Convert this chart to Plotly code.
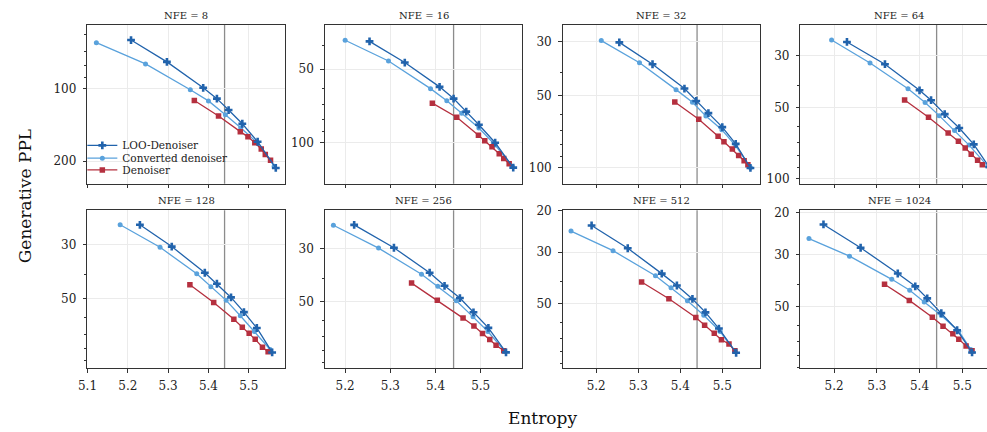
import plotly.graph_objects as go
from plotly.subplots import make_subplots

# ---------------- data ----------------
NFE = [8, 16, 32, 64, 128, 256, 512, 1024]
REF_ENTROPY = 5.44

LOO_ENTROPY = {
    8:    [5.208, 5.297, 5.387, 5.421, 5.450, 5.484, 5.522, 5.567],
    16:   [5.254, 5.332, 5.409, 5.440, 5.468, 5.496, 5.532, 5.572],
    32:   [5.255, 5.334, 5.410, 5.438, 5.467, 5.500, 5.532, 5.567],
    64:   [5.230, 5.319, 5.400, 5.427, 5.459, 5.493, 5.527, 5.563],
    128:  [5.230, 5.309, 5.391, 5.421, 5.456, 5.488, 5.520, 5.558],
    256:  [5.220, 5.308, 5.387, 5.420, 5.454, 5.484, 5.517, 5.556],
    512:  [5.189, 5.275, 5.356, 5.392, 5.429, 5.460, 5.492, 5.533],
    1024: [5.175, 5.262, 5.349, 5.390, 5.418, 5.451, 5.488, 5.523],
}
LOO_PPL = {
    8:    [63.0, 77.6, 99.4, 110.2, 122.9, 140.1, 166.3, 213.6],
    16:   [38.5, 47.0, 59.1, 66.0, 74.6, 84.4, 100.0, 126.4],
    32:   [30.1, 37.1, 46.8, 52.7, 59.2, 67.7, 79.4, 100.0],
    64:   [26.2, 32.6, 42.1, 46.4, 53.2, 61.0, 71.6, 89.4],
    128:  [24.9, 30.6, 39.2, 43.5, 49.5, 56.9, 66.1, 83.3],
    256:  [23.9, 29.8, 37.9, 43.0, 48.4, 55.5, 64.5, 81.7],
    512:  [23.1, 28.9, 37.1, 41.7, 47.6, 54.3, 63.7, 80.8],
    1024: [22.4, 28.1, 36.1, 40.9, 46.0, 53.1, 62.7, 77.8],
}
CONV_ENTROPY = {
    8:    [5.122, 5.244, 5.355, 5.400, 5.442, 5.480, 5.521, 5.563],
    16:   [5.200, 5.296, 5.389, 5.425, 5.458, 5.496, 5.532, 5.570],
    32:   [5.212, 5.303, 5.390, 5.429, 5.461, 5.499, 5.532, 5.567],
    64:   [5.194, 5.284, 5.373, 5.413, 5.446, 5.482, 5.516, 5.560],
    128:  [5.181, 5.280, 5.371, 5.406, 5.444, 5.479, 5.514, 5.553],
    256:  [5.174, 5.274, 5.369, 5.405, 5.446, 5.483, 5.516, 5.553],
    512:  [5.140, 5.240, 5.341, 5.378, 5.417, 5.456, 5.495, 5.530],
    1024: [5.141, 5.236, 5.335, 5.377, 5.411, 5.451, 5.492, 5.520],
}
CONV_PPL = {
    8:    [64.6, 79.1, 101.3, 112.6, 128.4, 145.4, 167.9, 210.0],
    16:   [38.1, 46.3, 60.1, 67.4, 75.8, 87.1, 102.2, 125.0],
    32:   [29.6, 36.6, 47.3, 53.4, 60.9, 69.4, 80.9, 99.5],
    64:   [25.7, 32.2, 41.5, 47.5, 54.0, 62.4, 72.1, 88.8],
    128:  [24.9, 30.8, 39.6, 44.7, 50.9, 58.9, 68.4, 81.0],
    256:  [24.0, 29.9, 38.5, 43.2, 49.7, 58.0, 66.8, 80.7],
    512:  [24.4, 29.6, 37.9, 42.6, 48.4, 55.9, 65.6, 79.8],
    1024: [25.7, 30.5, 38.2, 42.5, 47.6, 54.3, 63.3, 75.6],
}
DEN_ENTROPY = {
    8:    [5.365, 5.425, 5.479, 5.498, 5.515, 5.531, 5.541, 5.554],
    16:   [5.393, 5.447, 5.495, 5.509, 5.525, 5.541, 5.551, 5.563],
    32:   [5.387, 5.444, 5.490, 5.504, 5.524, 5.539, 5.552, 5.561],
    64:   [5.365, 5.421, 5.467, 5.491, 5.507, 5.521, 5.536, 5.547],
    128:  [5.354, 5.413, 5.463, 5.484, 5.501, 5.516, 5.534, 5.548],
    256:  [5.347, 5.404, 5.461, 5.485, 5.504, 5.520, 5.534, 5.551],
    512:  [5.308, 5.373, 5.437, 5.458, 5.481, 5.498, 5.516, 5.530],
    1024: [5.318, 5.376, 5.430, 5.455, 5.478, 5.492, 5.509, 5.523],
}
DEN_PPL = {
    8:    [112.2, 130.0, 151.0, 158.7, 167.9, 178.2, 187.8, 198.2],
    16:   [68.9, 78.7, 93.2, 98.2, 103.8, 111.0, 116.0, 121.8],
    32:   [53.2, 62.8, 73.9, 77.9, 83.4, 88.8, 93.4, 96.9],
    64:   [46.3, 54.9, 64.0, 69.4, 74.2, 78.9, 83.6, 87.4],
    128:  [43.9, 51.9, 60.9, 65.7, 69.4, 73.6, 79.3, 82.8],
    256:  [41.9, 49.4, 58.7, 63.3, 68.1, 72.1, 76.3, 80.4],
    512:  [40.3, 47.5, 57.1, 61.7, 66.7, 71.1, 74.1, 79.3],
    1024: [40.1, 46.9, 55.3, 60.3, 64.9, 68.5, 73.0, 76.6],
}
Y_MAJOR = {
    8: [100, 200], 16: [50, 100], 32: [30, 50, 100], 64: [30, 50, 100],
    128: [30, 50], 256: [30, 50], 512: [20, 30, 50], 1024: [20, 30, 50],
}
Y_MINOR_ALL = [20, 30, 40, 50, 60, 70, 80, 90, 100, 200, 300]

# ---------------- layout constants ----------------
W, H = 987, 432
FONT = "DejaVu Serif"
C_LOO = "#2163ac"
C_CONV = "#5aa2dc"
C_DEN = "#b5303f"
AX = "#333333"
GRID = "#ebebeb"

COL_PX = [(79, 279), (318.7, 518), (558.7, 758), (798.7, 987)]
ROW_PX = [(19, 181), (208, 369)]
X_RANGES = [(5.0995, 5.591), (5.155, 5.592), (5.120, 5.590), (5.121, 5.558)]
Y_RANGES = {
    8: (2.3946, 1.7356), 16: (2.1674, 1.5171), 32: (2.0651, 1.4051),
    64: (2.0222, 1.3446), 128: (1.9853, 1.3360), 256: (1.9782, 1.3169),
    512: (1.9734, 1.2980), 1024: (1.9575, 1.2898),
}
LEGEND_ROWS_PX = {"legend": 142, "legend2": 155, "legend3": 167}

fig = make_subplots(rows=2, cols=4)

for i, nfe in enumerate(NFE):
    r, c = divmod(i, 4)
    first = (i == 0)
    fig.add_trace(go.Scatter(
        x=CONV_ENTROPY[nfe], y=CONV_PPL[nfe], mode="lines+markers",
        name="Converted denoiser", legend="legend2", showlegend=first,
        line=dict(color=C_CONV, width=1.3),
        marker=dict(symbol="circle", size=5, color=C_CONV)), row=r + 1, col=c + 1)
    fig.add_trace(go.Scatter(
        x=DEN_ENTROPY[nfe], y=DEN_PPL[nfe], mode="lines+markers",
        name="Denoiser", legend="legend3", showlegend=first,
        line=dict(color=C_DEN, width=1.3),
        marker=dict(symbol="square", size=5.5, color=C_DEN)), row=r + 1, col=c + 1)
    fig.add_trace(go.Scatter(
        x=LOO_ENTROPY[nfe], y=LOO_PPL[nfe], mode="lines+markers",
        name="LOO-Denoiser", legend="legend", showlegend=first,
        line=dict(color=C_LOO, width=1.3),
        marker=dict(symbol="cross", size=6.5, color=C_LOO)), row=r + 1, col=c + 1)

    fig.add_vline(x=REF_ENTROPY, row=r + 1, col=c + 1, layer="below",
                  line=dict(color="#8c8c8c", width=1.3))

    xa = "xaxis" if i == 0 else f"xaxis{i + 1}"
    ya = "yaxis" if i == 0 else f"yaxis{i + 1}"
    x0, x1 = COL_PX[c]
    y0, y1 = ROW_PX[r]
    fig.layout[xa].update(
        domain=[x0 / W, x1 / W], range=list(X_RANGES[c]),
        tick0=5.0, dtick=0.1, tickformat=".1f",
        showgrid=True, gridcolor=GRID, gridwidth=0.8,
        zeroline=False, showline=True, linecolor=AX, linewidth=1, mirror=True,
        ticks="outside", ticklen=3.5, tickcolor=AX, tickwidth=0.9,
        showticklabels=(r == 1), ticklabelstandoff=3,
        tickfont=dict(family=FONT, size=12, color="#222"))
    majors = Y_MAJOR[nfe]
    minors = [v for v in Y_MINOR_ALL if v not in majors]
    fig.layout[ya].update(
        domain=[1 - y1 / H, 1 - y0 / H], type="log", range=list(Y_RANGES[nfe]),
        tickmode="array", tickvals=majors, ticktext=[str(v) for v in majors],
        showgrid=True, gridcolor=GRID, gridwidth=0.8,
        zeroline=False, showline=True, linecolor=AX, linewidth=1, mirror=(c != 3),
        ticks="outside", ticklen=3.5, tickcolor=AX, tickwidth=0.9,
        ticklabelstandoff=4,
        tickfont=dict(family=FONT, size=12, color="#222"),
        minor=dict(tickmode="array", tickvals=minors, ticks="outside", ticklen=2,
                   tickcolor=AX, tickwidth=0.7, showgrid=False))
    fig.add_annotation(
        x=(x0 + x1) / 2 / W if c != 3 else (x0 + 998) / 2 / W, y=1 - y0 / H,
        xref="paper", yref="paper", xanchor="center", yanchor="bottom",
        yshift=2, showarrow=False, text=f"NFE = {nfe}",
        font=dict(family=FONT, size=10, color="#222"))

fig.add_annotation(x=17 / W, y=1 - 194 / H, xref="paper", yref="paper",
                   text="Generative PPL", showarrow=False, textangle=-90,
                   xanchor="center", yanchor="middle",
                   font=dict(family=FONT, size=17, color="#111"))
fig.add_annotation(x=538 / W, y=1 - 420 / H, xref="paper", yref="paper",
                   text="Entropy", showarrow=False,
                   xanchor="center", yanchor="middle",
                   font=dict(family=FONT, size=17, color="#111"))

legend_common = dict(x=74 / W, xanchor="left", yanchor="middle",
                     bgcolor="rgba(0,0,0,0)", borderwidth=0,
                     font=dict(family=FONT, size=10.5, color="#222"))
fig.update_layout(
    width=W, height=H, margin=dict(l=0, r=0, t=0, b=0),
    plot_bgcolor="white", paper_bgcolor="white",
    font=dict(family=FONT, color="#222"),
    legend=dict(y=1 - LEGEND_ROWS_PX["legend"] / H, **legend_common),
    legend2=dict(y=1 - LEGEND_ROWS_PX["legend2"] / H, **legend_common),
    legend3=dict(y=1 - LEGEND_ROWS_PX["legend3"] / H, **legend_common),
)

fig.write_html("out.html",
               post_script="document.body.style.margin='0';document.body.style.padding='0';")
